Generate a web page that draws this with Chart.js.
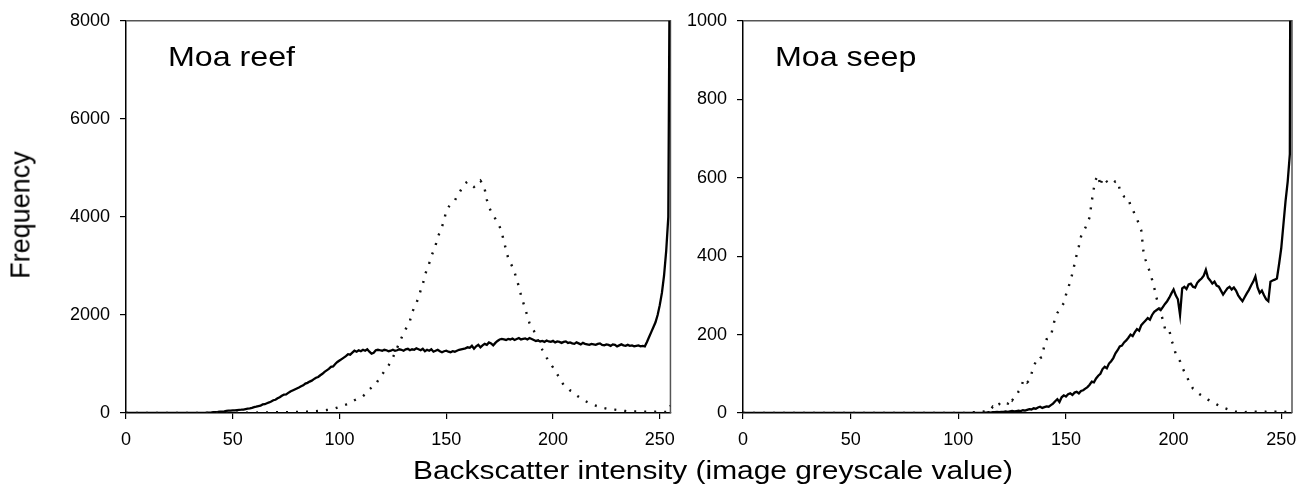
<!DOCTYPE html>
<html>
<head>
<meta charset="utf-8">
<title>Backscatter histograms</title>
<script src="https://cdn.jsdelivr.net/npm/chart.js@4.4.1/dist/chart.umd.min.js"></script>
<style>
  body { margin: 0; background: #fff; width: 1307px; height: 494px; position: relative; overflow: hidden;
         font-family: "Liberation Sans", Arial, sans-serif; }
  .panel { position: absolute; top: 0; }
  .panel canvas { display: block; }
  .label { position: absolute; color: #000; white-space: nowrap; line-height: 1; }
</style>
</head>
<body>
<div class="panel" style="left:0"><canvas id="reef-chart" width="685" height="460"></canvas></div>
<div class="panel" style="left:685px"><canvas id="seep-chart" width="622" height="460"></canvas></div>

<div class="label" style="left:168px;top:43px;font-size:28px;transform:scaleX(1.15);transform-origin:0 0">Moa reef</div>
<div class="label" style="left:775px;top:43px;font-size:28px;transform:scaleX(1.15);transform-origin:0 0">Moa seep</div>
<div class="label" style="left:21px;top:215px;font-size:27px;transform:translate(-50%,-50%) rotate(-90deg)">Frequency</div>
<div class="label" style="left:713px;top:470px;font-size:26px;transform:translate(-50%,-50%) scaleX(1.15)">Backscatter intensity (image greyscale value)</div>

<script>
// axes
const xTicks = [0, 50, 100, 150, 200, 250];
const reefTicks = [0, 2000, 4000, 6000, 8000];
const seepTicks = [0, 200, 400, 600, 800, 1000];

// Moa reef, frequency per grey level 0..255 (16 per row)
const reefSolid = [
  0,0,0,0,0,0,0,0,0,0,0,0,0,0,0,0,
  0,0,0,0,0,0,0,0,0,0,0,0,0,0,0,0,
  0,0,0,0,0,0,5,8,10,15,18,22,28,30,35,42,
  47,50,55,52,60,65,67,70,80,88,95,105,120,128,140,150,
  175,180,200,215,235,260,270,300,320,350,375,380,410,440,460,480,
  500,520,545,565,600,615,640,660,690,720,735,770,800,840,870,900,
  940,950,1000,1040,1070,1100,1130,1160,1200,1190,1230,1270,1250,1280,1260,1290,
  1270,1300,1250,1210,1230,1280,1290,1280,1270,1290,1280,1260,1270,1290,1270,1280,
  1300,1290,1270,1300,1310,1280,1300,1290,1320,1300,1280,1310,1260,1290,1270,1300,
  1250,1270,1290,1260,1240,1260,1270,1250,1240,1260,1250,1270,1290,1300,1310,1320,
  1340,1330,1370,1310,1360,1390,1340,1380,1410,1390,1440,1420,1380,1430,1470,1500,
  1510,1500,1490,1510,1500,1520,1490,1510,1530,1500,1510,1520,1500,1530,1510,1490,
  1470,1480,1460,1470,1450,1480,1460,1450,1470,1440,1460,1450,1430,1450,1460,1430,
  1440,1420,1410,1440,1420,1400,1430,1410,1400,1390,1410,1400,1390,1410,1420,1390,
  1380,1400,1390,1370,1400,1390,1360,1380,1400,1380,1370,1390,1370,1380,1360,1370,
  1380,1360,1370,1360,1450,1550,1650,1750,1850,2000,2200,2450,2800,3300,4000,12000
];
const reefDotted = [
  0,0,0,0,0,0,0,0,0,0,0,0,0,0,0,0,
  0,0,0,0,0,0,0,0,0,0,0,0,0,0,0,0,
  0,0,0,0,0,0,0,0,0,0,0,0,1,1,2,2,
  3,3,4,4,4,5,5,5,6,6,7,7,8,8,9,9,
  10,11,12,12,13,14,14,15,15,16,16,17,18,18,19,20,
  20,22,24,25,27,29,30,32,34,36,40,44,48,54,60,65,
  70,80,95,110,125,140,155,170,190,210,235,260,280,300,320,345,
  380,430,480,520,560,590,660,720,790,850,910,970,1050,1130,1230,1330,
  1430,1530,1620,1710,1780,1880,2050,2150,2240,2360,2500,2620,2820,2930,3050,3200,
  3300,3420,3580,3690,3800,3930,4130,4200,4250,4300,4330,4420,4480,4560,4630,4690,
  4720,4690,4650,4610,4640,4700,4740,4680,4570,4350,4200,4110,4040,3960,3880,3800,
  3680,3500,3330,3160,3070,2980,2870,2720,2580,2400,2260,2120,1980,1830,1750,1680,
  1580,1480,1380,1290,1210,1130,1060,990,930,860,790,720,640,570,530,500,
  460,440,400,360,330,300,275,250,225,205,185,165,150,135,120,110,
  100,90,82,78,72,68,62,58,52,46,40,34,32,30,30,30,
  30,28,28,26,26,25,25,24,24,22,22,22,20,20,20,150
];

// Moa seep
const seepSolid = [
  0,0,0,0,0,0,0,0,0,0,0,0,0,0,0,0,
  0,0,0,0,0,0,0,0,0,0,0,0,0,0,0,0,
  0,0,0,0,0,0,0,0,0,0,0,0,0,0,0,0,
  0,0,0,0,0,0,0,0,0,0,0,0,0,0,0,0,
  0,0,0,0,0,0,0,0,0,0,0,0,0,0,0,0,
  0,0,0,0,0,0,0,0,0,0,0,0,0,0,0,0,
  0,0,0,0,0,0,0,0,0,0,0,0,0,0,0,0,
  1,1,2,1,2,2,3,2,3,3,4,3,4,5,4,5,
  6,5,7,6,8,10,9,12,11,14,16,13,15,17,16,20,
  24,30,35,28,40,45,42,48,50,46,52,54,50,56,58,62,
  66,72,80,78,88,95,100,112,118,114,126,132,140,152,160,170,
  172,180,185,192,200,196,206,214,210,224,230,236,242,238,250,258,
  262,266,262,270,278,285,294,305,315,300,290,250,318,322,316,328,
  330,322,320,332,338,343,350,365,345,338,330,335,325,322,312,302,
  310,318,322,315,320,312,300,292,285,295,305,314,325,335,348,320,
  306,312,300,290,285,335,338,340,343,380,420,480,540,590,660,3000
];
const seepDotted = [
  0,0,0,0,0,0,0,0,0,0,0,0,0,0,0,0,
  0,0,0,0,0,0,0,0,0,0,0,0,0,0,0,0,
  0,0,0,0,0,0,0,0,0,0,0,0,0,0,0,0,
  0,0,0,0,0,0,0,0,0,0,0,0,0,0,0,0,
  0,0,0,0,0,0,0,0,0,0,0,0,0,0,0,0,
  0,0,0,0,0,0,0,0,0,0,0,0,0,0,0,0,
  0,0,0,0,0,0,0,0,1,0,1,2,1,2,3,3,
  4,5,6,8,16,12,20,23,18,22,25,24,38,32,40,43,
  55,62,80,87,78,83,100,120,130,128,140,143,175,188,190,196,
  220,243,255,264,272,280,301,318,335,356,380,404,425,450,462,472,
  485,499,540,574,597,606,578,600,596,590,586,588,585,591,592,570,
  560,552,549,548,528,520,505,495,480,465,412,390,373,360,340,320,
  295,275,255,238,215,218,212,185,172,150,140,132,117,105,95,82,
  72,62,58,52,48,45,42,38,34,31,28,25,22,19,16,14,
  12,10,8,6,5,3,3,3,3,2,3,4,3,2,3,3,
  3,2,3,3,4,3,2,3,3,4,3,2,3,4,3,5
];

// top + right edge of the plot box
const framePlugin = {
  id: 'frame',
  beforeDatasetsDraw(chart) {
    const { ctx, chartArea: a } = chart;
    ctx.save();
    ctx.strokeStyle = '#555';
    ctx.lineWidth = 1.5;
    ctx.beginPath();
    ctx.moveTo(a.left, a.top);
    ctx.lineTo(a.right, a.top);
    ctx.lineTo(a.right, a.bottom);
    ctx.stroke();
    ctx.restore();
  }
};

function toPoints(values) {
  return values.map((v, i) => ({ x: i, y: v }));
}

function makeHistogram(canvasId, solid, dotted, yTicks, yAxisWidth, rightPad) {
  const tickFont = { family: '"Liberation Sans", Arial, sans-serif', size: 18 };
  return new Chart(document.getElementById(canvasId), {
    type: 'line',
    data: {
      datasets: [
        {
          label: 'dotted',
          data: toPoints(dotted),
          borderColor: '#111',
          borderWidth: 2.4,
          borderDash: [2, 8],
          pointRadius: 0,
          tension: 0,
          fill: false
        },
        {
          label: 'solid',
          data: toPoints(solid),
          borderColor: '#000',
          borderWidth: 2.3,
          pointRadius: 0,
          tension: 0,
          fill: false
        }
      ]
    },
    options: {
      responsive: false,
      animation: false,
      layout: { padding: { left: 0, top: 16, right: rightPad, bottom: 15 } },
      plugins: { legend: { display: false }, tooltip: { enabled: false } },
      scales: {
        x: {
          type: 'linear',
          min: 0,
          max: 255,
          afterBuildTicks: scale => { scale.ticks = xTicks.map(v => ({ value: v })); },
          afterFit: scale => { scale.height = 32; },
          grid: { drawOnChartArea: false, drawTicks: true, tickLength: 6, color: '#000', lineWidth: 1.2 },
          border: { display: true, color: '#000', width: 1.5 },
          ticks: { color: '#000', font: tickFont, padding: 10, maxRotation: 0, callback: v => String(v) }
        },
        y: {
          min: yTicks[0],
          max: yTicks[yTicks.length - 1],
          afterBuildTicks: scale => { scale.ticks = yTicks.map(v => ({ value: v })); },
          afterFit: scale => { scale.width = yAxisWidth; },
          grid: { drawOnChartArea: false, drawTicks: true, tickLength: 6, color: '#000', lineWidth: 1.2 },
          border: { display: true, color: '#000', width: 1.5 },
          ticks: { color: '#000', font: tickFont, padding: 10, callback: v => String(v) }
        }
      }
    },
    plugins: [framePlugin]
  });
}

makeHistogram('reef-chart', reefSolid, reefDotted, reefTicks, 126, 11);
makeHistogram('seep-chart', seepSolid, seepDotted, seepTicks, 58, 15);
</script>
</body>
</html>
